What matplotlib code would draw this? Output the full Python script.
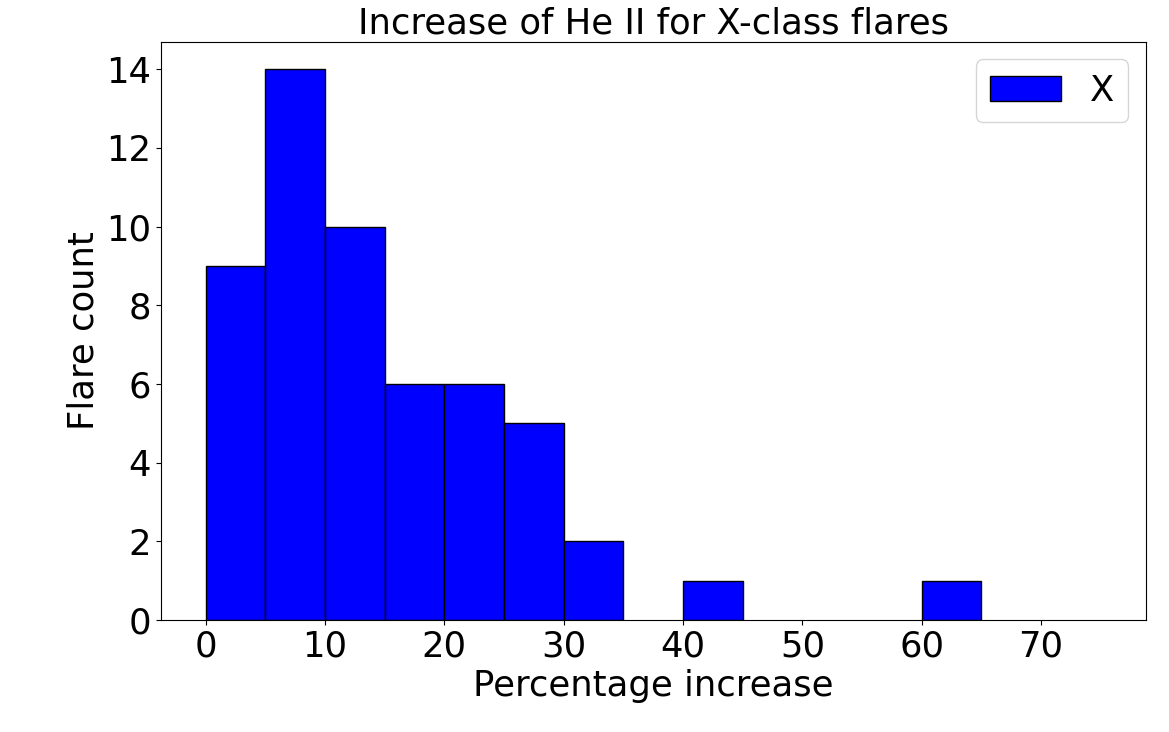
import numpy as np
import matplotlib
matplotlib.use("Agg")
import matplotlib.pyplot as plt

# bin edges and counts
bin_edges = [0, 5, 10, 15, 20, 25, 30, 35, 40, 45, 50, 55, 60, 65, 70, 75]
counts = [9, 14, 10, 6, 6, 5, 2, 0, 1, 0, 0, 0, 1, 0, 0]

plt.rcParams['font.size'] = 25.5

fig = plt.figure(figsize=(11.69, 7.32), dpi=100)
ax = fig.add_axes([0.1375, 0.153, 0.8425, 0.790])

n, b, patches = ax.hist(bin_edges[:-1], bins=bin_edges, weights=counts,
                        color='blue', edgecolor='black', label='X')
# empty bins show no edge line
for p, c in zip(patches, counts):
    if c == 0:
        p.set_linewidth(0)
ax.set_title('Increase of He II for X-class flares', fontsize=25.5)
ax.set_xlabel('Percentage increase')
ax.set_ylabel('Flare count')
ax.legend(loc='upper right')

fig.savefig('out.png', dpi=100)
